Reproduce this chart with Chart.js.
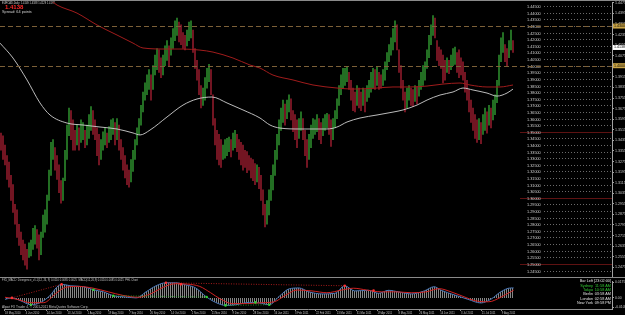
<!DOCTYPE html>
<html>
<head>
<meta charset="utf-8">
<script src="https://cdn.jsdelivr.net/npm/chart.js@4.4.0/dist/chart.umd.min.js"></script>
<style>
  html, body { margin: 0; padding: 0; background: #000; }
  #wrap { position: relative; width: 625px; height: 315px; background: #000; overflow: hidden; }
  #main { position: absolute; left: 0; top: 0; }
  #sub { position: absolute; left: 0; top: 277px; }
</style>
</head>
<body>
<div id="wrap">
  <canvas id="main" width="625" height="278"></canvas>
  <canvas id="sub" width="625" height="38"></canvas>
</div>
<script>
// daily bars, EURCAD (one bar every 2 px)
var highs = [
  1.349,1.347,1.340,1.332,1.327,1.317,1.310,1.295,1.291,1.280,1.274,1.268,1.265,1.261,1.266,1.268,1.277,1.279,1.276,1.272,
  1.274,1.287,1.291,1.302,1.321,1.342,1.344,1.338,1.332,1.325,1.313,1.315,1.336,1.355,1.368,1.366,1.359,1.351,1.355,1.353,
  1.359,1.357,1.351,1.355,1.363,1.369,1.366,1.359,1.353,1.348,1.344,1.350,1.353,1.349,1.354,1.359,1.360,1.357,1.360,1.355,
  1.344,1.338,1.332,1.325,1.321,1.329,1.336,1.344,1.353,1.360,1.370,1.380,1.387,1.393,1.397,1.393,1.400,1.408,1.413,1.412,
  1.406,1.408,1.415,1.419,1.415,1.421,1.428,1.434,1.436,1.433,1.431,1.425,1.423,1.427,1.433,1.434,1.427,1.413,1.404,1.397,
  1.385,1.383,1.391,1.398,1.401,1.397,1.378,1.360,1.351,1.348,1.344,1.340,1.344,1.345,1.346,1.344,1.349,1.351,1.348,1.344,
  1.342,1.340,1.336,1.335,1.332,1.330,1.329,1.326,1.325,1.323,1.317,1.306,1.295,1.298,1.306,1.317,1.325,1.336,1.348,1.359,
  1.368,1.374,1.371,1.374,1.378,1.375,1.366,1.363,1.359,1.360,1.365,1.360,1.351,1.344,1.348,1.355,1.360,1.359,1.363,1.360,
  1.357,1.360,1.363,1.364,1.363,1.359,1.360,1.366,1.375,1.385,1.393,1.398,1.398,1.399,1.395,1.389,1.383,1.380,1.385,1.383,
  1.380,1.383,1.382,1.385,1.389,1.395,1.398,1.397,1.399,1.395,1.393,1.397,1.403,1.410,1.416,1.421,1.428,1.434,1.431,1.412,
  1.400,1.389,1.380,1.383,1.385,1.383,1.382,1.385,1.384,1.389,1.395,1.400,1.403,1.412,1.423,1.431,1.438,1.436,1.419,1.414,
  1.412,1.408,1.404,1.406,1.404,1.408,1.413,1.414,1.410,1.412,1.406,1.403,1.395,1.389,1.382,1.374,1.368,1.363,1.359,1.360,
  1.357,1.363,1.368,1.365,1.370,1.368,1.374,1.378,1.389,1.408,1.421,1.425,1.416,1.413,1.419,1.427,1.419
];
var lows = [
  1.336,1.329,1.325,1.314,1.308,1.298,1.289,1.280,1.270,1.264,1.257,1.253,1.249,1.246,1.255,1.256,1.261,1.265,1.262,1.253,
  1.257,1.270,1.274,1.280,1.298,1.317,1.329,1.321,1.314,1.304,1.296,1.298,1.313,1.329,1.347,1.344,1.336,1.336,1.340,1.336,
  1.342,1.344,1.338,1.340,1.345,1.351,1.348,1.344,1.332,1.325,1.329,1.336,1.340,1.338,1.342,1.344,1.348,1.340,1.344,1.336,
  1.329,1.321,1.315,1.310,1.308,1.312,1.320,1.329,1.340,1.348,1.355,1.365,1.374,1.378,1.382,1.374,1.382,1.393,1.397,1.395,
  1.391,1.393,1.400,1.404,1.400,1.408,1.413,1.419,1.423,1.418,1.416,1.413,1.412,1.415,1.419,1.421,1.410,1.398,1.389,1.378,
  1.368,1.370,1.374,1.383,1.388,1.378,1.355,1.340,1.329,1.325,1.323,1.329,1.330,1.332,1.335,1.331,1.336,1.338,1.335,1.329,
  1.325,1.321,1.323,1.319,1.321,1.315,1.313,1.310,1.312,1.307,1.298,1.287,1.278,1.280,1.287,1.298,1.306,1.317,1.329,1.340,
  1.351,1.357,1.355,1.360,1.365,1.359,1.350,1.344,1.338,1.345,1.351,1.344,1.332,1.323,1.329,1.338,1.345,1.348,1.350,1.344,
  1.341,1.347,1.351,1.353,1.348,1.339,1.344,1.353,1.360,1.370,1.378,1.383,1.385,1.388,1.382,1.374,1.366,1.365,1.370,1.368,
  1.366,1.370,1.365,1.373,1.376,1.380,1.383,1.382,1.385,1.382,1.383,1.385,1.389,1.397,1.403,1.408,1.412,1.418,1.412,1.395,
  1.383,1.374,1.365,1.368,1.374,1.370,1.369,1.373,1.371,1.377,1.382,1.385,1.389,1.398,1.406,1.416,1.423,1.421,1.404,1.400,
  1.398,1.387,1.389,1.395,1.394,1.397,1.400,1.401,1.395,1.391,1.393,1.389,1.380,1.374,1.365,1.357,1.351,1.345,1.342,1.344,
  1.341,1.348,1.351,1.349,1.355,1.353,1.359,1.363,1.372,1.385,1.403,1.410,1.403,1.400,1.406,1.412,1.410
];

// moving averages, read at a few bars
var maWhiteIdx = [-0.5, 6, 13, 19.5, 24.5, 33, 41, 49.5, 58, 66, 69.5, 74.5, 83, 91, 98, 105.5, 113, 121, 129.5, 134.5,
  139.5, 149.5, 163, 168, 173, 179.5, 188, 196, 201, 208, 213, 219.5, 226, 231, 236, 243, 248, 253, 256];
var maWhite = [1.4171, 1.4058, 1.3892, 1.3718, 1.3627, 1.3566, 1.3551, 1.3536, 1.3521, 1.3491, 1.3476, 1.3513, 1.3612, 1.3702,
  1.3748, 1.3763, 1.3718, 1.3665, 1.3604, 1.3551, 1.3528, 1.3521, 1.3521, 1.3536, 1.3574, 1.3604, 1.3627, 1.3649, 1.3665,
  1.3702, 1.3740, 1.3778, 1.3801, 1.3831, 1.3816, 1.3793, 1.3770, 1.3793, 1.3823];
var maRedIdx = [14.5, 24.5, 28, 38, 48, 58, 66, 71, 83, 91, 99.5, 106, 116, 124.5, 129.5, 136, 146, 156, 168, 176, 188,
  196, 204.5, 213, 221, 229.5, 234.5, 243, 249.5, 256];
var maRed = [1.4572, 1.4497, 1.4459, 1.4398, 1.4308, 1.4232, 1.4171, 1.4134, 1.4126, 1.4126, 1.4118, 1.4103, 1.4058, 1.4005,
  1.3982, 1.3929, 1.3892, 1.3854, 1.3831, 1.3823, 1.3831, 1.3839, 1.3839, 1.3846, 1.3861, 1.3869, 1.3854, 1.3839, 1.3839, 1.3854];

var hLines = [1.43, 1.40];
var roundLevels = [1.35, 1.30, 1.25];
var levels = [1.445, 1.440, 1.435, 1.430, 1.425, 1.420, 1.415, 1.410, 1.405, 1.400, 1.395, 1.390, 1.385, 1.380,
  1.375, 1.370, 1.365, 1.360, 1.355, 1.350, 1.345, 1.340, 1.335, 1.330, 1.325, 1.320, 1.315, 1.310, 1.305, 1.300,
  1.295, 1.290, 1.285, 1.280, 1.275, 1.270, 1.265, 1.260, 1.255, 1.250, 1.245];
var priceTicks = [1.4475, 1.4395, 1.4315, 1.4235, 1.4155, 1.4075, 1.3995, 1.3915, 1.3835, 1.3755, 1.3675, 1.3595, 1.3515,
  1.3435, 1.3355, 1.3275, 1.3195, 1.3115, 1.3035, 1.2955, 1.2875, 1.2795, 1.2715, 1.2635, 1.2555, 1.2475];
var bid = 1.4138;

var dateLabels = ['18 May 2010', '4 Jun 2010', '24 Jun 2010', '13 Jul 2010', '1 Aug 2010', '19 Aug 2010', '7 Sep 2010',
  '26 Sep 2010', '14 Oct 2010', '2 Nov 2010', '21 Nov 2010', '9 Dec 2010', '28 Dec 2010', '16 Jan 2011', '3 Feb 2011',
  '22 Feb 2011', '13 Mar 2011', '31 Mar 2011', '19 Apr 2011', '8 May 2011', '26 May 2011', '14 Jun 2011', '3 Jul 2011',
  '21 Jul 2011', '9 Aug 2011'];
var dateIdx = [0, 10.5, 21, 31.5, 41.5, 52, 62.5, 73, 83.5, 94, 104, 114.5, 125, 135.5, 146, 156.5, 167, 177, 187.5, 198,
  208.5, 219, 229.5, 240, 250];

// MACD window
var macdIdx = [0, 3.5, 8, 13, 18, 23, 26, 28.5, 33, 39.5, 44.5, 49.5, 54.5, 61, 66, 71, 76, 81, 86, 91, 96, 101, 106, 111,
  116, 123, 128, 133, 138, 143, 148, 153, 159.5, 166, 171, 176, 183, 188, 193, 198, 204.5, 211, 216, 219.5, 226, 233,
  239.5, 244.5, 249.5, 254.5, 256];
var macdVal = [-0.0016, 0.0000, -0.0033, -0.0076, -0.0050, 0.0034, 0.0117, 0.0150, 0.0134, 0.0124, 0.0090, 0.0067, 0.0024,
  0.0010, 0.0000, 0.0067, 0.0134, 0.0167, 0.0167, 0.0144, 0.0110, 0.0017, -0.0050, -0.0083, -0.0076, -0.0050, -0.0056,
  -0.0076, 0.0017, 0.0100, 0.0110, 0.0067, 0.0044, 0.0050, 0.0134, 0.0077, 0.0084, 0.0050, 0.0084, 0.0067, 0.0044, 0.0077,
  0.0124, 0.0084, 0.0034, -0.0016, -0.0056, -0.0016, 0.0067, 0.0110, 0.0110];
var signalIdx = [0, 5.5, 13, 19.5, 25.5, 30.5, 37, 44.5, 52, 59.5, 67, 73.5, 79.5, 86, 92, 98, 103.5, 108.5, 114.5, 122,
  129.5, 135.5, 141, 147, 154.5, 162, 169.5, 175.5, 182, 189.5, 197, 204.5, 212, 218.5, 224.5, 230.5, 237, 243.5, 249.5,
  254.5, 256];
var signalVal = [0.0007, -0.0013, -0.0053, -0.0053, 0.0047, 0.0117, 0.0127, 0.0107, 0.0067, 0.0027, 0.0007, 0.0047, 0.0117,
  0.0157, 0.0152, 0.0127, 0.0057, -0.0013, -0.0063, -0.0063, -0.0053, -0.0043, 0.0027, 0.0087, 0.0077, 0.0057, 0.0087,
  0.0107, 0.0087, 0.0067, 0.0067, 0.0057, 0.0067, 0.0102, 0.0067, 0.0017, -0.0033, -0.0043, 0.0007, 0.0067, 0.0085];
var peakIdx = [3.5, 28.5, 81, 88.5, 171, 185.5];
var peakVal = [0.0000, 0.0150, 0.0167, 0.0150, 0.0134, 0.0080];
var troughIdx = [13, 44.5, 54.5, 101.5, 111, 126, 133];
var troughVal = [-0.0076, 0.0090, 0.0024, 0.0010, -0.0083, -0.0050, -0.0076];
var subTicks = [0.0175, 0, -0.0105];

var headerText = 'EURCAD,Daily  1.4149 1.4188 1.4129 1.4177';
var spreadText = 'Spread: 64 points';
var macdTitle = 'FX5_MACD_Divergence_v1.1(12, 26, 9) 0.0110 0.0085 0.0025  MACD(12,26,9) 0.0110 0.0085 0.0025  PHL Chart';
var copyrightText = 'Alpari FX Trader 4, \u00a9 2001-2011 MetaQuotes Software Corp.';
var barLeftText = 'Bar Left [23:02:00]';
var sessionNames = ['Sydney', 'Tokyo', 'Berlin', 'London', 'New York'];
var sessionTimes = ['11:58 AM', '10:58 AM', '03:58 AM', '02:58 AM', '09:58 PM'];
var sessionOpen = [true, true, false, false, false];

var UP = '#2b852b';
var DOWN = '#8a1a2a';
var FONT = '"Liberation Sans"';

function pts(xs, ys) {
    return xs.map(function(x, i) { return { x: x, y: ys[i] }; });
}

function txt(ctx, s, x, y, size, color, align, bold) {
    ctx.font = (bold ? 'bold ' : '') + size + 'px ' + FONT;
    ctx.fillStyle = color;
    ctx.textAlign = align || 'left';
    ctx.textBaseline = 'middle';
    ctx.fillText(s, x, y);
}

var bars = highs.map(function(h, i) { return { x: i, y: [lows[i], h] }; });
var barColors = highs.map(function(h, i) {
    if (i == 0) return DOWN;
    var mid = (h + lows[i]) / 2;
    var prevMid = (highs[i - 1] + lows[i - 1]) / 2;
    return mid >= prevMid ? UP : DOWN;
});

// levels, dashed lines and texts drawn over the bars
var mainOverlay = {
    id: 'mainOverlay',
    afterDatasetsDraw: function(chart) {
        var ctx = chart.ctx, a = chart.chartArea, y = chart.scales.y;
        ctx.save();
        levels.forEach(function(lv) {
            var py = Math.round(y.getPixelForValue(lv)) + 0.5;
            ctx.beginPath();
            ctx.lineWidth = 1;
            if (roundLevels.indexOf(lv) >= 0) {
                ctx.setLineDash([]);
                ctx.strokeStyle = '#5e1212';
                ctx.moveTo(a.right - 92, py);
            } else {
                ctx.setLineDash([1, 2]);
                ctx.strokeStyle = '#6a6a6a';
                ctx.moveTo(a.right - 68, py);
            }
            ctx.lineTo(a.right, py);
            ctx.stroke();
            txt(ctx, lv.toFixed(5), a.right - 85, py, 3.8, '#cfcfcf');
        });

        ctx.setLineDash([5, 3]);
        ctx.strokeStyle = '#7c6038';
        hLines.forEach(function(v) {
            var py = Math.round(y.getPixelForValue(v)) + 0.5;
            ctx.beginPath();
            ctx.moveTo(a.left, py);
            ctx.lineTo(a.right, py);
            ctx.stroke();
        });
        ctx.setLineDash([]);

        txt(ctx, headerText, 2, 3, 2.6, '#d0d0d0');
        txt(ctx, bid.toFixed(4), 5, 7, 6, '#ff2a2a', 'left', true);
        txt(ctx, spreadText, 2, 12, 3.8, '#d0d0d0');
        ctx.restore();
    },
    afterDraw: function(chart) {
        var ctx = chart.ctx, a = chart.chartArea, y = chart.scales.y;
        ctx.save();
        ctx.fillStyle = '#8a8a8a';
        ctx.fillRect(0, 0, 625, 1);
        function box(v, bg) {
            var py = y.getPixelForValue(v);
            ctx.fillStyle = bg;
            ctx.fillRect(a.right + 1, py - 2.5, 13, 5);
            txt(ctx, v.toFixed(4), a.right + 2, py, 3.6, '#000');
        }
        hLines.forEach(function(v) { box(v, '#c9a446'); });
        box(bid, '#ffffff');
        ctx.restore();
    }
};

var mainChart = new Chart(document.getElementById('main'), {
    data: {
        datasets: [
            { type: 'bar', data: bars, backgroundColor: barColors, borderWidth: 0, barThickness: 1, grouped: false, order: 3 },
            { type: 'line', data: pts(maRedIdx, maRed), borderColor: '#a01c1c', borderWidth: 1, pointRadius: 0,
              cubicInterpolationMode: 'monotone', order: 2 },
            { type: 'line', data: pts(maWhiteIdx, maWhite), borderColor: '#cfcfcf', borderWidth: 0.9, pointRadius: 0,
              cubicInterpolationMode: 'monotone', order: 1 }
        ]
    },
    options: {
        responsive: false,
        animation: false,
        layout: { padding: { top: 2, bottom: 1, left: 0, right: 0 } },
        plugins: { legend: { display: false }, tooltip: { enabled: false } },
        scales: {
            x: { type: 'linear', min: -0.5, max: 305.5, offset: false, display: false },
            y: {
                position: 'right', min: 1.2401, max: 1.4482,
                afterFit: function(s) { s.width = 13; s.paddingTop = 0; s.paddingBottom = 0; },
                afterBuildTicks: function(s) { s.ticks = priceTicks.map(function(v) { return { value: v }; }); },
                ticks: { color: '#c8c8c8', font: { size: 3.6, family: FONT }, padding: 1,
                         callback: function(v) { return v.toFixed(4); } },
                grid: { drawOnChartArea: false, tickLength: 2, color: '#a0a0a0' },
                border: { color: '#a0a0a0' }
            }
        }
    },
    plugins: [mainOverlay]
});

// striped fill for the MACD histogram
var subCanvas = document.getElementById('sub');
var stripe = document.createElement('canvas');
stripe.width = 2;
stripe.height = 1;
var sctx = stripe.getContext('2d');
sctx.fillStyle = 'rgba(150,150,150,0.9)';
sctx.fillRect(0, 0, 1, 1);
var histPattern = subCanvas.getContext('2d').createPattern(stripe, 'repeat');

var subOverlay = {
    id: 'subOverlay',
    afterDraw: function(chart) {
        var ctx = chart.ctx, a = chart.chartArea;
        ctx.save();
        ctx.fillStyle = '#8a8a8a';
        ctx.fillRect(0, 0, 625, 1);
        txt(ctx, macdTitle, 2, 3.6, 2.7, '#c0c0c0');
        txt(ctx, copyrightText, 2, 29.8, 3.2, '#c0c0c0');
        txt(ctx, barLeftText, a.right - 1, 3.8, 3.8, '#e0e0e0', 'right');
        for (var i = 0; i < sessionNames.length; i++) {
            var c = sessionOpen[i] ? '#32c832' : '#e0e0e0';
            var py = 8.5 + i * 4.4;
            txt(ctx, sessionNames[i], a.right - 19, py, 3.8, c, 'right');
            txt(ctx, sessionTimes[i], a.right - 1, py, 3.8, c, 'right');
        }
        ctx.restore();
    }
};

var subChart = new Chart(subCanvas, {
    data: {
        datasets: [
            { type: 'line', data: pts(macdIdx, macdVal), borderColor: '#4a78b8', borderWidth: 1, pointRadius: 0,
              fill: 'origin', backgroundColor: histPattern, cubicInterpolationMode: 'monotone', order: 4 },
            { type: 'line', data: pts(signalIdx, signalVal), borderColor: '#d02222', borderWidth: 1, pointRadius: 0,
              cubicInterpolationMode: 'monotone', order: 3 },
            { type: 'line', data: [{ x: peakIdx[0], y: peakVal[0] }, { x: peakIdx[1], y: peakVal[1] }],
              borderColor: '#d02222', borderWidth: 0.8, borderDash: [1, 1.5], pointRadius: 0, order: 2 },
            { type: 'line', data: [{ x: peakIdx[2], y: peakVal[2] }, { x: peakIdx[4], y: peakVal[4] }],
              borderColor: '#d02222', borderWidth: 0.8, borderDash: [1, 1.5], pointRadius: 0, order: 2 },
            { type: 'line', data: [{ x: troughIdx[2], y: troughVal[2] }, { x: troughIdx[3], y: troughVal[3] }],
              borderColor: '#2fb82f', borderWidth: 0.8, borderDash: [1, 1.5], pointRadius: 0, order: 2 },
            { type: 'line', data: [{ x: troughIdx[4], y: troughVal[4] }, { x: troughIdx[6], y: troughVal[6] }],
              borderColor: '#2fb82f', borderWidth: 0.8, borderDash: [1, 1.5], pointRadius: 0, order: 2 },
            { type: 'line', data: pts(peakIdx, peakVal), showLine: false, pointRadius: 1.3, borderWidth: 0,
              backgroundColor: '#ff3030', order: 1 },
            { type: 'line', data: pts(troughIdx, troughVal), showLine: false, pointRadius: 1.3, borderWidth: 0,
              backgroundColor: '#30d030', order: 1 }
        ]
    },
    options: {
        responsive: false,
        animation: false,
        layout: { padding: { top: 1, bottom: 0, left: 0, right: 0 } },
        plugins: { legend: { display: false }, tooltip: { enabled: false } },
        scales: {
            x: {
                type: 'linear', min: -0.5, max: 305.5, offset: false,
                afterFit: function(s) { s.height = 6; s.paddingLeft = 0; s.paddingRight = 0; },
                afterBuildTicks: function(s) { s.ticks = dateIdx.map(function(v) { return { value: v }; }); },
                ticks: { color: '#c0c0c0', font: { size: 2.7, family: FONT }, padding: 0.5, align: 'start',
                         autoSkip: false, maxRotation: 0, minRotation: 0,
                         callback: function(v, i) { return dateLabels[i]; } },
                grid: { drawOnChartArea: false, tickLength: 2, color: '#909090' },
                border: { color: '#909090' }
            },
            y: {
                position: 'right', min: -0.0123, max: 0.0187,
                afterFit: function(s) { s.width = 13; s.paddingTop = 0; s.paddingBottom = 0; },
                afterBuildTicks: function(s) { s.ticks = subTicks.map(function(v) { return { value: v }; }); },
                ticks: { color: '#c8c8c8', font: { size: 3.4, family: FONT }, padding: 1,
                         callback: function(v) { return v == 0 ? '0.00' : v.toFixed(4); } },
                grid: { drawOnChartArea: false, tickLength: 2, color: '#a0a0a0' },
                border: { color: '#a0a0a0' }
            }
        }
    },
    plugins: [subOverlay]
});
</script>
</body>
</html>
